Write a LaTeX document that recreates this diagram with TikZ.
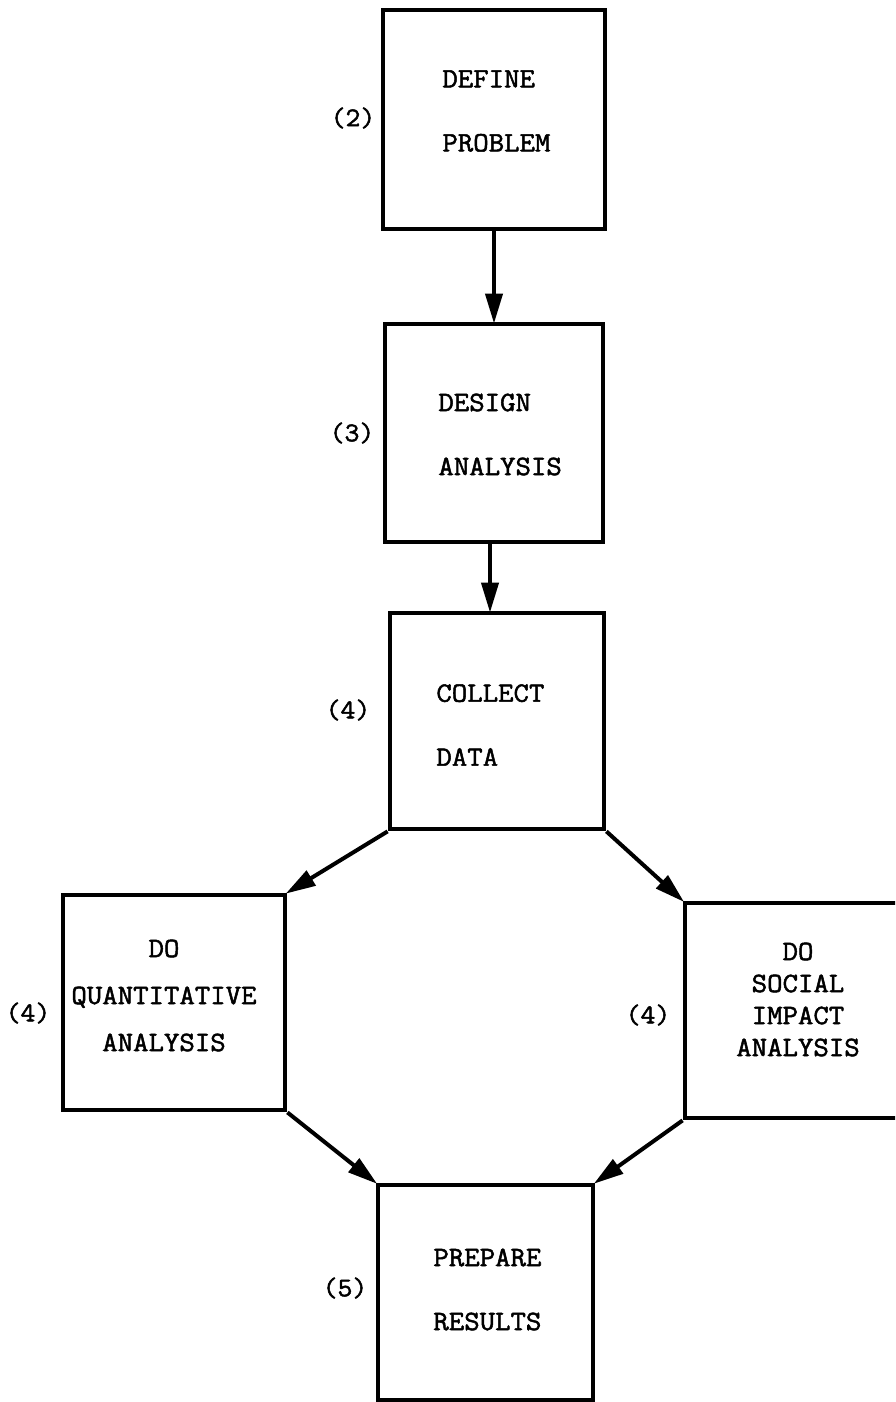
\documentclass[tikz,border=0pt]{standalone}
\usepackage{fontspec}
\newfontfamily\tw{Latin Modern Mono}[FakeStretch=1.07,FakeBold=1.8]
\usetikzlibrary{arrows.meta}
\begin{document}
\begin{tikzpicture}[x=0.5pt,y=-0.5pt,
  box/.style={draw,line width=2.4pt,inner sep=0pt},
  lbl/.style={font=\tw\fontsize{13.5pt}{15pt}\selectfont,inner sep=0pt},
  txt/.style={font=\tw\fontsize{14pt}{#1}\selectfont,inner sep=0pt},
  flow/.style={line width=2pt,-{Triangle[length=15pt,width=8.5pt]},shorten >=-1pt}]
\useasboundingbox (0,0) rectangle (895,1402);
\clip (0,0) rectangle (895,1402);
% boxes
\node[box,minimum width=111pt,minimum height=109.5pt] (b1) at (494,119.5) {};
\node[box,minimum width=109pt,minimum height=109pt] (b2) at (494,433) {};
\node[box,minimum width=107pt,minimum height=108pt] (b3) at (497,721) {};
\node[box,minimum width=111pt,minimum height=107.5pt] (b4) at (174,1002.5) {};
\node[box,minimum width=111pt,minimum height=107.5pt] (b5) at (796,1010.5) {};
\node[box,minimum width=107.5pt,minimum height=107.5pt] (b6) at (485.5,1292.5) {};
% box texts
\node[txt=32pt,align=left,anchor=west] (t1) at (442,111) {DEFINE\\PROBLEM};
\node[txt=32pt,align=left,anchor=west] (t2) at (438,434.5) {DESIGN\\ANALYSIS};
\node[txt=32pt,align=left,anchor=west] (t3) at (436,725) {COLLECT\\DATA};
\node[txt=23.5pt,align=center] (t4) at (164,995.5) {DO\\QUANTITATIVE\\ANALYSIS};
\node[txt=16pt,align=center] (t5) at (798,999.5) {DO\\SOCIAL\\IMPACT\\ANALYSIS};
\node[txt=32pt,align=left,anchor=west] (t6) at (433,1289.5) {PREPARE\\RESULTS};
% step labels
\node[lbl] (l1) at (353,118) {(2)};
\node[lbl] (l2) at (352,433) {(3)};
\node[lbl] (l3) at (348,710) {(4)};
\node[lbl] (l4) at (28,1013) {(4)};
\node[lbl] (l5) at (648,1015) {(4)};
\node[lbl] (l6) at (345,1288) {(5)};
% connectors
\draw[flow] (b1.south) -- (b2.north);
\draw[flow] ([xshift=-2pt]b2.south) -- ([xshift=-2pt]b2.south |- b3.north);
\draw[flow] (b3.south west) -- (b4.north east);
\draw[flow] (b3.south east) -- (b5.north west);
\draw[flow] (b4.south east) -- (b6.north west);
\draw[flow] (b5.south west) -- (b6.north east);
\end{tikzpicture}
\end{document}
